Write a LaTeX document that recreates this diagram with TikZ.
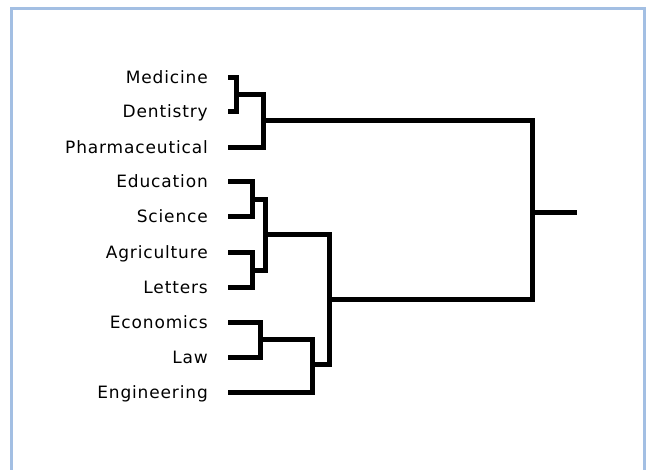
\documentclass[tikz,border=0pt]{standalone}
\usepackage{fontspec}
\setmainfont{DejaVu Sans}[LetterSpace=5]
\definecolor{frameblue}{HTML}{A3BFE3}
\begin{document}
\begin{tikzpicture}[x=1pt,y=-1pt,
  leaf/.style={anchor=base east,inner sep=0pt,font=\fontsize{17}{20}\selectfont},
  branch/.style={line width=5pt,line join=miter,line cap=butt},
  frame/.style={draw=frameblue,line width=3pt}]
\useasboundingbox (0,0) rectangle (649,470);
\fill[white] (0,0) rectangle (649,470);
% outer frame, open at the bottom edge
\draw[frame] (11.5,475) -- (11.5,9) -- (644,9) -- (644,475);

% leaf labels
\node[leaf] (med)  at (208,84)  {Medicine};
\node[leaf] (den)  at (208,118) {Dentistry};
\node[leaf] (pha)  at (208,154) {Pharmaceutical};
\node[leaf] (edu)  at (208,188) {Education};
\node[leaf] (sci)  at (208,223) {Science};
\node[leaf] (agr)  at (208,259) {Agriculture};
\node[leaf] (let)  at (208,294) {Letters};
\node[leaf] (eco)  at (208,329) {Economics};
\node[leaf] (law)  at (208,364) {Law};
\node[leaf] (eng)  at (208,399) {Engineering};

% leaf line ends
\coordinate (med-e) at (228,78);
\coordinate (den-e) at (228,112);
\coordinate (pha-e) at (228,148);
\coordinate (edu-e) at (228,182);
\coordinate (sci-e) at (228,217);
\coordinate (agr-e) at (228,253);
\coordinate (let-e) at (228,288);
\coordinate (eco-e) at (228,323);
\coordinate (law-e) at (228,358);
\coordinate (eng-e) at (228,393);

% merge points
\coordinate (jA) at (236,95);
\coordinate (jB) at (263,121);
\coordinate (jC) at (252,200);
\coordinate (jD) at (252,271);
\coordinate (jE) at (265,235);
\coordinate (jF) at (260,340);
\coordinate (jG) at (312,365);
\coordinate (jH) at (329,300);
\coordinate (jR) at (532,213);
\coordinate (root) at (577,213);

% dendrogram branches
\draw[branch] (med-e) -| (jA) |- (den-e);
\draw[branch] (jA) -| (jB) |- (pha-e);
\draw[branch] (edu-e) -| (jC) |- (sci-e);
\draw[branch] (agr-e) -| (jD) |- (let-e);
\draw[branch] (jC) -| (jE) |- (jD);
\draw[branch] (eco-e) -| (jF) |- (law-e);
\draw[branch] (jF) -| (jG) |- (eng-e);
\draw[branch] (jE) -| (jH) |- (jG);
\draw[branch] (jB) -| (jR) |- (jH);
\draw[branch] (jR) -- (root);
\end{tikzpicture}
\end{document}
